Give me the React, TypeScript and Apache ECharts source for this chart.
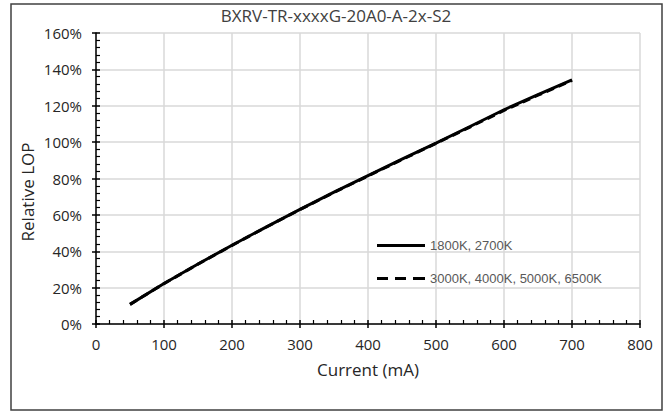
import React, { useEffect, useRef } from "react";
import * as echarts from "echarts";

const title = "BXRV-TR-xxxxG-20A0-A-2x-S2";
const xName = "Current (mA)";
const yName = "Relative LOP";
const seriesNames = ["1800K, 2700K", "3000K, 4000K, 5000K, 6500K"];
const currents = [50, 100, 150, 200, 250, 300, 350, 400, 450, 500, 550, 600, 650, 700];
const lopWarm = [10.8, 22.3, 33.0, 43.3, 53.3, 63.0, 72.5, 81.6, 90.6, 99.5, 108.6, 117.8, 126.1, 134.2];
const lopCool = [10.8, 22.2, 32.9, 43.2, 53.2, 62.9, 72.3, 81.4, 90.4, 99.3, 108.3, 117.4, 125.8, 133.9];

const FONT = "'Open Sans', Lato, sans-serif";
const SOLID_ICON = "path://M0,0h48v3h-48z";
const DASH_ICON = "path://M0,0h11v3h-11z M18,0h11v3h-11z M36,0h12v3h-12z";

export default function App() {
  const ref = useRef<HTMLDivElement>(null);
  useEffect(() => {
    if (!ref.current) return;
    const chart = echarts.init(ref.current, null, { renderer: "svg" });
    const warm = currents.map((c, i) => [c, lopWarm[i]]);
    const cool = currents.map((c, i) => [c, lopCool[i]]);
    const grid = { left: 96, right: 28, top: 33, bottom: 89 };
    const xBase = { type: "value", min: 0, max: 800, interval: 100, position: "bottom" };
    const yBase = { type: "value", min: 0, max: 160, interval: 20, position: "left" };
    chart.setOption({
      animation: false,
      backgroundColor: "#ffffff",
      title: {
        text: title,
        left: 331,
        textAlign: "center",
        top: 2,
        textStyle: { fontFamily: FONT, fontSize: 17, fontWeight: "normal", color: "#404040" },
      },
      grid,
      legend: {
        orient: "vertical",
        left: 372,
        top: 234,
        itemWidth: 48,
        itemHeight: 3,
        itemGap: 20,
        symbolKeepAspect: false,
        itemStyle: { borderWidth: 0, color: "#000" },
        lineStyle: { width: 0 },
        textStyle: { fontFamily: "'Liberation Sans', Arial, sans-serif", fontSize: 13, color: "#595959" },
        data: [
          { name: seriesNames[0], icon: SOLID_ICON },
          { name: seriesNames[1], icon: DASH_ICON },
        ],
      },
      xAxis: [
        {
          ...xBase,
          name: xName,
          nameLocation: "middle",
          nameGap: 37,
          nameTextStyle: { fontFamily: FONT, fontSize: 17, color: "#262626" },
          axisLine: { show: true, onZero: false, lineStyle: { color: "#000", width: 1.5 } },
          axisTick: { show: true, inside: false, length: 4, lineStyle: { color: "#000", width: 1.5 } },
          axisLabel: { fontFamily: FONT, fontSize: 15, color: "#262626", margin: 12 },
          splitLine: { show: true, lineStyle: { color: "#d9d9d9", width: 1.5 } },
        },
        {
          ...xBase,
          axisLine: { show: false, onZero: false },
          axisTick: { show: true, inside: true, length: 4, lineStyle: { color: "#000", width: 1.5 } },
          minorTick: { show: true, splitNumber: 5, length: 4, lineStyle: { color: "#000", width: 1.2 } },
          axisLabel: { show: false },
          splitLine: { show: false },
        },
      ],
      yAxis: [
        {
          ...yBase,
          axisLine: { show: true, onZero: false, lineStyle: { color: "#000", width: 1.5 } },
          axisTick: { show: true, inside: false, length: 4, lineStyle: { color: "#000", width: 1.5 } },
          axisLabel: { fontFamily: FONT, fontSize: 15, color: "#262626", margin: 14, formatter: "{value}%" },
          splitLine: { show: true, lineStyle: { color: "#d9d9d9", width: 1.5 } },
        },
        {
          ...yBase,
          axisLine: { show: false, onZero: false },
          axisTick: { show: true, inside: true, length: 4, lineStyle: { color: "#000", width: 1.5 } },
          minorTick: { show: true, splitNumber: 5, length: 4, lineStyle: { color: "#000", width: 1.2 } },
          axisLabel: { show: false },
          splitLine: { show: false },
        },
      ],
      series: [
        {
          name: seriesNames[1],
          type: "line",
          xAxisIndex: 0,
          yAxisIndex: 0,
          data: cool,
          showSymbol: false,
          symbol: "none",
          lineStyle: { color: "#000", width: 3, type: [8, 5] },
          itemStyle: { color: "#000" },
        },
        {
          name: seriesNames[0],
          type: "line",
          xAxisIndex: 0,
          yAxisIndex: 0,
          data: warm,
          showSymbol: false,
          symbol: "none",
          lineStyle: { color: "#000", width: 3, type: "solid" },
          itemStyle: { color: "#000" },
        },
      ],
      graphic: [
        {
          type: "rect",
          shape: { x: 11, y: 4, width: 651, height: 406 },
          style: { fill: "none", stroke: "#404040", lineWidth: 1.5 },
          silent: true,
          z: -1,
        },
        {
          type: "text",
          x: 27,
          y: 192,
          rotation: Math.PI / 2,
          style: {
            text: yName,
            fontFamily: FONT,
            fontSize: 17,
            fill: "#262626",
            align: "center",
            verticalAlign: "middle",
          },
        },
      ],
    });
    return () => chart.dispose();
  }, []);
  return (
    <div
      ref={ref}
      style={{ position: "fixed", left: 0, top: 0, width: 668, height: 413 }}
    />
  );
}
